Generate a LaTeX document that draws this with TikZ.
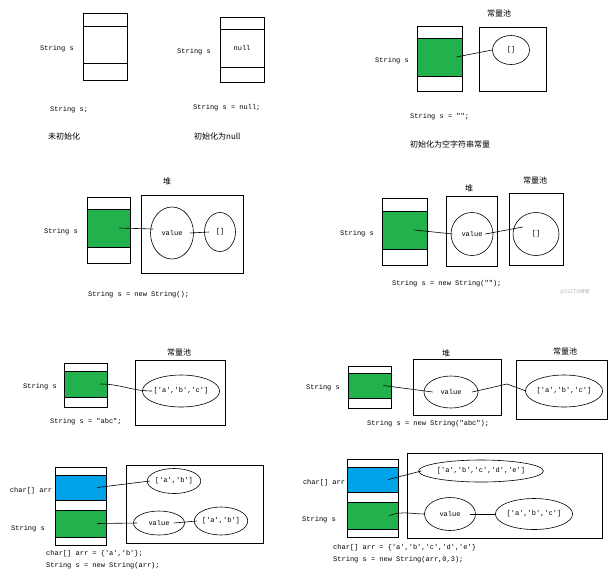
\documentclass[tikz,border=0pt]{standalone}
\usepackage{fontspec}
\setmonofont{Liberation Mono}
\newfontfamily\zh{Noto Sans CJK SC}
\usetikzlibrary{shapes.geometric}
\definecolor{paintgreen}{RGB}{34,177,76}
\definecolor{paintblue}{RGB}{0,162,232}
\tikzset{
  cell/.style={draw, rectangle, inner sep=0pt, line width=0.6pt, font=\ttfamily\fontsize{7}{8}\selectfont},
  green cell/.style={cell, fill=paintgreen},
  blue cell/.style={cell, fill=paintblue},
  regionbox/.style={draw, rectangle, inner sep=0pt, line width=0.6pt},
  blob/.style={draw, ellipse, inner sep=0pt, line width=0.6pt, font=\ttfamily\fontsize{7}{8}\selectfont},
  codetext/.style={font=\ttfamily\fontsize{7}{8}\selectfont, inner sep=0pt},
  codeline/.style={codetext, anchor=west},
  zhtext/.style={font=\zh\fontsize{8}{9}\selectfont, inner sep=0pt},
  link/.style={line width=0.6pt},
}

\begin{document}
\begin{tikzpicture}[x=1pt, y=-1pt]
  \useasboundingbox (0,0) rectangle (615,576);

  % String s;
  \node[cell, minimum width=44, minimum height=67] (stackA) at (105,46.5) {};
  \node[cell, minimum width=44, minimum height=37] (sA) at (105,44.5) {};
  \node[codetext] (lA) at (57,49) {String s};
  \node[codeline] (cA) at (50,110) {String s;};
  \node[zhtext, anchor=west] (tA) at (48,136) {未初始化};

  % String s = null;
  \node[cell, minimum width=44, minimum height=65] (stackB) at (242,49.5) {};
  \node[cell, minimum width=44, minimum height=38] (sB) at (242,48) {null};
  \node[codetext] (lB) at (194,52) {String s};
  \node[codeline] (cB) at (193,108) {String s = null;};
  \node[zhtext, anchor=west] (tB) at (194,136) {初始化为null};

  % String s = "";
  \node[cell, minimum width=45, minimum height=65] (stackC) at (439.5,58.5) {};
  \node[green cell, minimum width=45, minimum height=38] (gC) at (439.5,57) {};
  \node[codetext] (lC) at (392,61) {String s};
  \node[regionbox, minimum width=67, minimum height=64] (pC) at (512.5,59) {};
  \node[zhtext] (hC) at (499,13) {常量池};
  \node[blob, minimum width=37, minimum height=29] (eC) at (511,50) {[]};
  \draw[link] ([xshift=-6]gC.east) -- (eC.west);
  \node[codeline] (cC) at (410,117) {String s = "";};
  \node[zhtext, anchor=west] (tC) at (410,144) {初始化为空字符串常量};

  % String s = new String();
  \node[cell, minimum width=43, minimum height=66] (stackD) at (108.5,230) {};
  \node[green cell, minimum width=43, minimum height=38] (gD) at (108.5,228) {};
  \node[codetext] (lD) at (61,232) {String s};
  \node[regionbox, minimum width=102, minimum height=78] (hpD) at (192,234) {};
  \node[zhtext] (hD) at (167,181) {堆};
  \node[blob, minimum width=43, minimum height=52] (vD) at (172,233) {value};
  \node[blob, minimum width=31, minimum height=39] (aD) at (220,232) {[]};
  \draw[link] ([xshift=-11]gD.east) -- ([shift={(3,-4)}]vD.west);
  \draw[link] ([xshift=-4]vD.east) -- ([xshift=5]aD.west);
  \node[codeline] (cD) at (88,295) {String s = new String();};

  % String s = new String("");
  \node[cell, minimum width=45, minimum height=67] (stackE) at (404.5,231.5) {};
  \node[green cell, minimum width=45, minimum height=38] (gE) at (404.5,230) {};
  \node[codetext] (lE) at (357,234) {String s};
  \node[regionbox, minimum width=51, minimum height=70] (hpE) at (471.5,231) {};
  \node[zhtext] (hE) at (469,188) {堆};
  \node[blob, minimum width=42, minimum height=43] (vE) at (472,234) {value};
  \node[regionbox, minimum width=54, minimum height=72] (pE) at (536,229) {};
  \node[zhtext] (hpoolE) at (535,180) {常量池};
  \node[blob, minimum width=46, minimum height=43] (aE) at (536,234) {[]};
  \draw[link] ([xshift=-13]gE.east) -- ([xshift=2]vE.west);
  \draw[link] ([xshift=-8]vE.east) -- ([shift={(10,-7)}]aE.west);
  \node[codeline] (cE) at (392,284) {String s = new String("");};
  \node[zhtext, font=\zh\fontsize{5}{6}\selectfont, text=black!30] (wm) at (575,292) {@51CTO博客};

  % String s = "abc";
  \node[cell, minimum width=43, minimum height=44] (stackF) at (85.5,385) {};
  \node[green cell, minimum width=43, minimum height=26] (gF) at (85.5,384) {};
  \node[codetext] (lF) at (40,387) {String s};
  \node[regionbox, minimum width=90, minimum height=65] (pF) at (180,392.5) {};
  \node[zhtext] (hF) at (179,352) {常量池};
  \node[blob, minimum width=75, minimum height=32] (eF) at (181,391) {['a','b','c']};
  \draw[link] ([xshift=-7]gF.east) to[out=0, in=180] ([xshift=10]eF.west);
  \node[codeline] (cF) at (50,422) {String s = "abc";};

  % String s = new String("abc");
  \node[cell, minimum width=43, minimum height=42] (stackG) at (369.5,387) {};
  \node[green cell, minimum width=43, minimum height=25] (gG) at (369.5,385.5) {};
  \node[codetext] (lG) at (323,388) {String s};
  \node[regionbox, minimum width=88, minimum height=56] (hpG) at (457,387) {};
  \node[zhtext] (hG) at (446,353) {堆};
  \node[blob, minimum width=54, minimum height=32] (vG) at (451,392) {value};
  \node[regionbox, minimum width=91, minimum height=59] (pG) at (561.5,389.5) {};
  \node[zhtext] (hpoolG) at (565,351) {常量池};
  \node[blob, minimum width=76, minimum height=32] (eG) at (564,391) {['a','b','c']};
  \coordinate (kG) at (507,384);
  \draw[link] ([xshift=-8]gG.east) -- ([xshift=9]vG.west);
  \draw[link] ([xshift=-6]vG.east) -- (kG) -- ([xshift=1]eG.west);
  \node[codeline] (cG) at (367,424) {String s = new String("abc");};

  % char[] arr = {'a','b'};  String s = new String(arr);
  \node[cell, minimum width=51, minimum height=78] (stackH) at (80.5,506) {};
  \node[blue cell, minimum width=51, minimum height=25] (bH) at (80.5,487.5) {};
  \node[green cell, minimum width=51, minimum height=27] (gH) at (80.5,523.5) {};
  \node[codetext] (lbH) at (31,491) {char[] arr};
  \node[codetext] (lgH) at (28,529) {String s};
  \node[regionbox, minimum width=137, minimum height=78] (hpH) at (194.5,504) {};
  \node[blob, minimum width=49, minimum height=25] (aH) at (174,481) {['a','b']};
  \node[blob, minimum width=51, minimum height=24] (vH) at (159,523) {value};
  \node[blob, minimum width=48, minimum height=28] (a2H) at (221,521) {['a','b']};
  \draw[link] ([xshift=-9]bH.east) -- ([xshift=3]aH.west);
  \draw[link] ([xshift=-9]gH.east) -- ([xshift=4]vH.west);
  \draw[link] ([xshift=-11]vH.east) -- ([xshift=3]a2H.west);
  \node[codeline] (cH1) at (46,554) {char[] arr = \{'a','b'\};};
  \node[codeline] (cH2) at (46,566) {String s = new String(arr);};

  % char[] arr = {'a','b','c','d','e'}  String s = new String(arr,0,3);
  \node[cell, minimum width=51, minimum height=78] (stackI) at (372.5,498) {};
  \node[blue cell, minimum width=51, minimum height=25] (bI) at (372.5,479.5) {};
  \node[green cell, minimum width=51, minimum height=27] (gI) at (372.5,515.5) {};
  \node[codetext] (lbI) at (324,483) {char[] arr};
  \node[codetext] (lgI) at (319,520) {String s};
  \node[regionbox, minimum width=195, minimum height=85] (hpI) at (504.5,495.5) {};
  \node[blob, minimum width=114, minimum height=22] (aI) at (481,471) {['a','b','c','d','e']};
  \node[blob, minimum width=51, minimum height=33] (vI) at (450,514) {value};
  \node[blob, minimum width=62, minimum height=31] (a2I) at (534,514) {['a','b','c']};
  \draw[link] ([xshift=-10]bI.east) -- ([xshift=3]aI.west);
  \draw[link] ([xshift=-9]gI.east) to[out=20, in=180] ([xshift=1]vI.west);
  \draw[link] ([xshift=-6]vI.east) -- (a2I.west);
  \node[codeline] (cI1) at (333,548) {char[] arr = \{'a','b','c','d','e'\}};
  \node[codeline] (cI2) at (333,560) {String s = new String(arr,0,3);};

\end{tikzpicture}
\end{document}
